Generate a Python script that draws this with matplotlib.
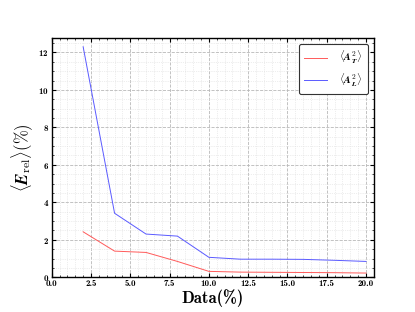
import matplotlib
matplotlib.use('Agg')
import matplotlib.pyplot as plt
from matplotlib.ticker import MultipleLocator, AutoMinorLocator

# data
data_pct = [2, 4, 6, 8, 10, 12, 14, 16, 18, 20]
err_AT = [2.43, 1.40, 1.33, 0.85, 0.32, 0.28, 0.27, 0.26, 0.25, 0.23]
err_AL = [12.3, 3.42, 2.31, 2.20, 1.07, 0.97, 0.97, 0.96, 0.91, 0.85]

plt.rcParams['mathtext.fontset'] = 'cm'
plt.rcParams['font.family'] = 'cmb10'
plt.rcParams['axes.formatter.use_mathtext'] = True

fig = plt.figure(figsize=(4.15, 3.12), dpi=100)
ax = fig.add_axes([0.1246, 0.111, 0.7764, 0.768])

ax.plot(data_pct, err_AT, color='#ff5a5a', lw=0.7, label=r'$\langle \mathbfit{A}_{\mathbfit{T}}^2\rangle$')
ax.plot(data_pct, err_AL, color='#5a5aff', lw=0.7, label=r'$\langle \mathbfit{A}_{\mathbfit{L}}^2\rangle$')

ax.set_xlim(0, 20.5)
ax.set_ylim(0, 12.78)
ax.xaxis.set_major_locator(MultipleLocator(2.5))
ax.xaxis.set_minor_locator(AutoMinorLocator(5))
ax.yaxis.set_major_locator(MultipleLocator(2))
ax.yaxis.set_minor_locator(AutoMinorLocator(4))
ax.xaxis.set_major_formatter(matplotlib.ticker.FormatStrFormatter('%.1f'))

ax.tick_params(which='both', direction='in', top=True, right=True, labelsize=6.5, pad=2)
ax.tick_params(which='major', length=3, width=0.8)
ax.tick_params(which='minor', length=1.5, width=0.5)
for s in ax.spines.values():
    s.set_linewidth(1.0)

ax.grid(which='major', linestyle='--', color='#b8b8b8', lw=0.6)
ax.grid(which='minor', linestyle=':', color='#dcdcdc', lw=0.5)

ax.set_xlabel('Data(%)', fontsize=12, labelpad=1)
ax.set_ylabel(r'$\langle \mathbfit{E}_{\rm rel}\rangle(\%)$', fontsize=12, labelpad=2)

leg = ax.legend(loc='upper right', fontsize=7.5, frameon=True, fancybox=True,
                edgecolor='#333333', framealpha=1, handlelength=2.2, borderpad=0.5,
                handletextpad=1.2, borderaxespad=0.6)
leg.get_frame().set_linewidth(0.8)

fig.savefig('out.png', dpi=100)
